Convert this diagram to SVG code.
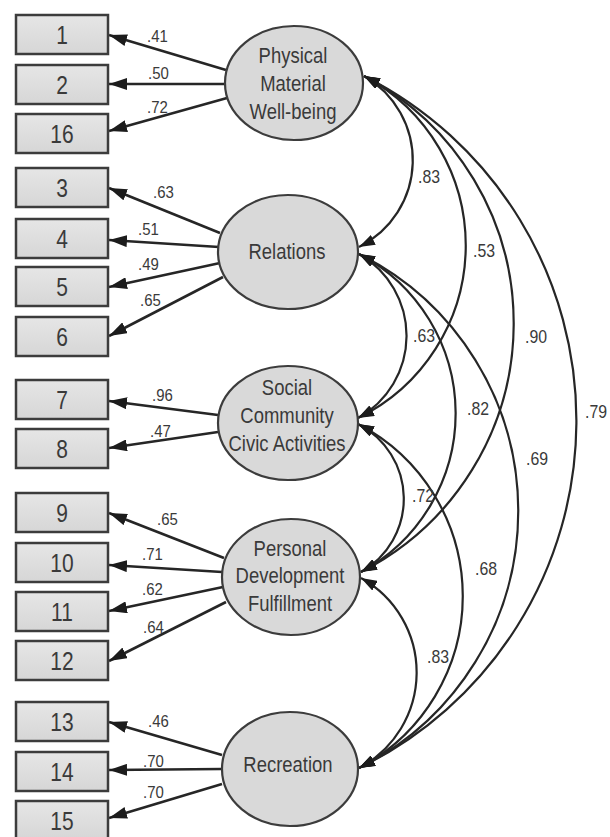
<svg xmlns="http://www.w3.org/2000/svg" width="610" height="837" viewBox="0 0 610 837">
<defs>
<marker id="la" viewBox="0 0 18 12" refX="18" refY="6" markerWidth="18" markerHeight="12" markerUnits="userSpaceOnUse" orient="auto-start-reverse"><path d="M0,0 L18,6 L0,12 z" fill="#1c1c1c"/></marker>
<marker id="ca" viewBox="0 0 16 11" refX="16" refY="5.5" markerWidth="16" markerHeight="11" markerUnits="userSpaceOnUse" orient="auto-start-reverse"><path d="M0,0 L16,5.5 L0,11 z" fill="#1c1c1c"/></marker>
<linearGradient id="bg" x1="0" y1="0" x2="0" y2="1"><stop offset="0" stop-color="#e6e6e6"/><stop offset="1" stop-color="#d6d6d6"/></linearGradient>
</defs>
<style>
.box{fill:url(#bg);stroke:#3c3c3c;stroke-width:2.5}
.lat{fill:#d9d9d9;stroke:#3c3c3c;stroke-width:2.2}
.num{font-family:"Liberation Sans",Arial,sans-serif;font-size:25px;fill:#3a3a3a;text-anchor:middle}
.nm{font-family:"Liberation Sans",Arial,sans-serif;font-size:22px;fill:#3a3a3a;text-anchor:middle}
.lb{font-family:"Liberation Sans",Arial,sans-serif;font-size:17px;fill:#3a3a3a}
.cl{font-family:"Liberation Sans",Arial,sans-serif;font-size:18px;fill:#3a3a3a}
.ld{fill:none;stroke:#262626;stroke-width:2.6;marker-end:url(#la)}
.arc{fill:none;stroke:#262626;stroke-width:2.2;marker-start:url(#ca);marker-end:url(#ca)}
</style>
<rect width="610" height="837" fill="#ffffff"/>

<g id="connectors">
<line class="ld" x1="226" y1="70" x2="109" y2="35"/>
<line class="ld" x1="226" y1="84" x2="109" y2="84"/>
<line class="ld" x1="227" y1="98" x2="109" y2="131"/>
<line class="ld" x1="220" y1="233" x2="109" y2="188"/>
<line class="ld" x1="219" y1="247" x2="109" y2="240"/>
<line class="ld" x1="220" y1="263" x2="109" y2="287"/>
<line class="ld" x1="223" y1="277" x2="109" y2="336"/>
<line class="ld" x1="218" y1="415" x2="109" y2="401"/>
<line class="ld" x1="218" y1="432" x2="109" y2="448"/>
<line class="ld" x1="224" y1="558" x2="109" y2="513"/>
<line class="ld" x1="222" y1="572" x2="109" y2="565"/>
<line class="ld" x1="223" y1="587" x2="109" y2="611"/>
<line class="ld" x1="226" y1="602" x2="109" y2="661"/>
<line class="ld" x1="222" y1="755" x2="109" y2="722"/>
<line class="ld" x1="222" y1="769" x2="109" y2="770"/>
<line class="ld" x1="222" y1="784" x2="109" y2="818"/>

<path class="arc" d="M364,76 A97,97 0 0 1 359,247"/>
<path class="arc" d="M364,76 A192,192 0 0 1 358,418"/>
<path class="arc" d="M364,76 A279,279 0 0 1 361,572"/>
<path class="arc" d="M364,76 A386,386 0 0 1 359,768"/>
<path class="arc" d="M359,254 A94,94 0 0 1 358,418"/>
<path class="arc" d="M359,254 A180,180 0 0 1 361,572"/>
<path class="arc" d="M359,254 A287,287 0 0 1 359,768"/>
<path class="arc" d="M358,424 A84,84 0 0 1 361,572"/>
<path class="arc" d="M358,424 A194,194 0 0 1 359,768"/>
<path class="arc" d="M361,578 A108,108 0 0 1 359,768"/>

<text class="lb" transform="translate(147,42) scale(0.88,1)">.41</text>
<text class="lb" transform="translate(148,79) scale(0.88,1)">.50</text>
<text class="lb" transform="translate(147,113) scale(0.88,1)">.72</text>
<text class="lb" transform="translate(153,198) scale(0.88,1)">.63</text>
<text class="lb" transform="translate(138,235) scale(0.88,1)">.51</text>
<text class="lb" transform="translate(138,270) scale(0.88,1)">.49</text>
<text class="lb" transform="translate(140,306) scale(0.88,1)">.65</text>
<text class="lb" transform="translate(152,401) scale(0.88,1)">.96</text>
<text class="lb" transform="translate(150,437) scale(0.88,1)">.47</text>
<text class="lb" transform="translate(157,525) scale(0.88,1)">.65</text>
<text class="lb" transform="translate(142,560) scale(0.88,1)">.71</text>
<text class="lb" transform="translate(142,595) scale(0.88,1)">.62</text>
<text class="lb" transform="translate(143,633) scale(0.88,1)">.64</text>
<text class="lb" transform="translate(148,727) scale(0.88,1)">.46</text>
<text class="lb" transform="translate(143,767) scale(0.88,1)">.70</text>
<text class="lb" transform="translate(143,798) scale(0.88,1)">.70</text>

<text class="cl" transform="translate(418,183) scale(0.88,1)">.83</text>
<text class="cl" transform="translate(473,257) scale(0.88,1)">.53</text>
<text class="cl" transform="translate(525,343) scale(0.88,1)">.90</text>
<text class="cl" transform="translate(585,418) scale(0.88,1)">.79</text>
<text class="cl" transform="translate(413,342) scale(0.88,1)">.63</text>
<text class="cl" transform="translate(467,415) scale(0.88,1)">.82</text>
<text class="cl" transform="translate(526,465) scale(0.88,1)">.69</text>
<text class="cl" transform="translate(412,502) scale(0.88,1)">.72</text>
<text class="cl" transform="translate(475,575) scale(0.88,1)">.68</text>
<text class="cl" transform="translate(427,663) scale(0.88,1)">.83</text>
</g>

<g id="box1"><rect class="box" x="16" y="15" width="92" height="39"/><text class="num" transform="translate(62,44) scale(0.84,1)">1</text></g>
<g id="box2"><rect class="box" x="16" y="65" width="92" height="39"/><text class="num" transform="translate(62,94) scale(0.84,1)">2</text></g>
<g id="box16"><rect class="box" x="16" y="114" width="92" height="39"/><text class="num" transform="translate(62,143) scale(0.84,1)">16</text></g>
<g id="box3"><rect class="box" x="16" y="168" width="92" height="39"/><text class="num" transform="translate(62,197) scale(0.84,1)">3</text></g>
<g id="box4"><rect class="box" x="16" y="219" width="92" height="39"/><text class="num" transform="translate(62,248) scale(0.84,1)">4</text></g>
<g id="box5"><rect class="box" x="16" y="267" width="92" height="39"/><text class="num" transform="translate(62,296) scale(0.84,1)">5</text></g>
<g id="box6"><rect class="box" x="16" y="317" width="92" height="39"/><text class="num" transform="translate(62,346) scale(0.84,1)">6</text></g>
<g id="box7"><rect class="box" x="16" y="380" width="92" height="39"/><text class="num" transform="translate(62,409) scale(0.84,1)">7</text></g>
<g id="box8"><rect class="box" x="16" y="429" width="92" height="39"/><text class="num" transform="translate(62,458) scale(0.84,1)">8</text></g>
<g id="box9"><rect class="box" x="16" y="493" width="92" height="39"/><text class="num" transform="translate(62,522) scale(0.84,1)">9</text></g>
<g id="box10"><rect class="box" x="16" y="543" width="92" height="39"/><text class="num" transform="translate(62,572) scale(0.84,1)">10</text></g>
<g id="box11"><rect class="box" x="16" y="592" width="92" height="39"/><text class="num" transform="translate(62,621) scale(0.84,1)">11</text></g>
<g id="box12"><rect class="box" x="16" y="641" width="92" height="39"/><text class="num" transform="translate(62,670) scale(0.84,1)">12</text></g>
<g id="box13"><rect class="box" x="16" y="702" width="92" height="39"/><text class="num" transform="translate(62,731) scale(0.84,1)">13</text></g>
<g id="box14"><rect class="box" x="16" y="752" width="92" height="39"/><text class="num" transform="translate(62,781) scale(0.84,1)">14</text></g>
<g id="box15"><rect class="box" x="16" y="801" width="92" height="39"/><text class="num" transform="translate(62,830) scale(0.84,1)">15</text></g>

<g id="physical"><ellipse class="lat" cx="294" cy="83" rx="69" ry="57"/>
<g transform="translate(293,0) scale(0.84,1)"><text class="nm" x="0" y="63.5">Physical</text><text class="nm" x="0" y="91.5">Material</text><text class="nm" x="0" y="119">Well-being</text></g></g>
<g id="relations"><ellipse class="lat" cx="288" cy="252" rx="70" ry="57"/>
<g transform="translate(287,0) scale(0.84,1)"><text class="nm" x="0" y="259">Relations</text></g></g>
<g id="social"><ellipse class="lat" cx="288" cy="423" rx="70" ry="57"/>
<g transform="translate(287,0) scale(0.84,1)"><text class="nm" x="0" y="395">Social</text><text class="nm" x="0" y="423">Community</text><text class="nm" x="0" y="451">Civic Activities</text></g></g>
<g id="personal"><ellipse class="lat" cx="291" cy="577" rx="69" ry="58"/>
<g transform="translate(290,0) scale(0.84,1)"><text class="nm" x="0" y="556">Personal</text><text class="nm" x="0" y="583">Development</text><text class="nm" x="0" y="611">Fulfillment</text></g></g>
<g id="recreation"><ellipse class="lat" cx="290" cy="769" rx="68" ry="57"/>
<g transform="translate(288,0) scale(0.84,1)"><text class="nm" x="0" y="772">Recreation</text></g></g>
</svg>
